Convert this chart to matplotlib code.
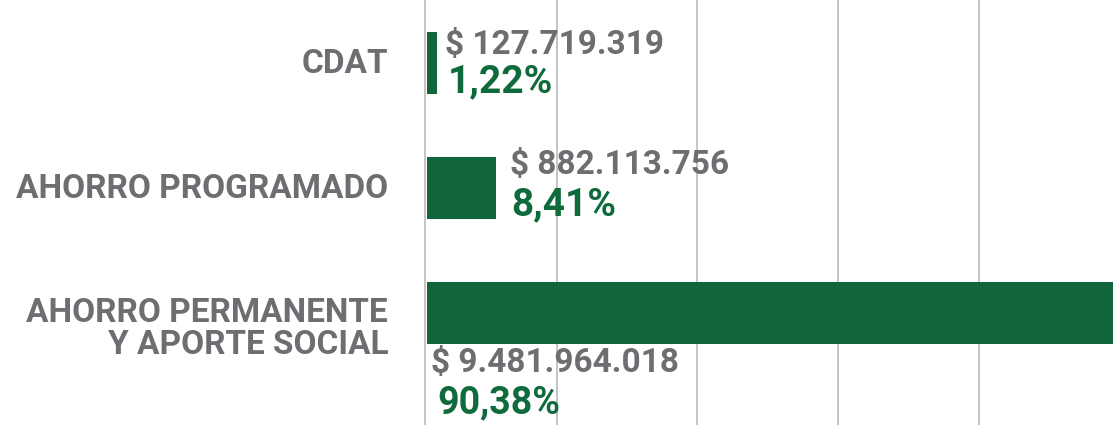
import numpy as np
import matplotlib.pyplot as plt

plt.rcParams['font.family'] = ['Roboto', 'DejaVu Sans']

categorias = ["CDAT", "AHORRO PROGRAMADO", "AHORRO PERMANENTE\nY APORTE SOCIAL"]
valores = [127719319, 882113756, 9481964018]
porcentajes = ["1,22%", "8,41%", "90,38%"]
etiquetas_valor = ["$ 127.719.319", "$ 882.113.756", "$ 9.481.964.018"]

verde = '#10663a'
verde_txt = '#0f6b3c'
gris = '#6d6e71'

fig = plt.figure(figsize=(11.13, 4.25), dpi=100)
ax = fig.add_axes([425 / 1113, 0, 1 - 425 / 1113, 1])

y = np.arange(len(categorias))
ax.barh(y, valores, height=0.49, color=verde, left=0.03e9, zorder=3)

ax.set_xlim(0, 8.84e9)
ax.set_ylim(2.896, -0.504)
ax.set_xticks(1.69e9 + np.arange(4) * 1.81e9)
ax.grid(axis='x', color='#bfbfbf', linewidth=1.3, zorder=0)
ax.tick_params(left=False, bottom=False, labelbottom=False, labelleft=False)
for s in ['top', 'right', 'bottom']:
    ax.spines[s].set_visible(False)
ax.spines['left'].set_color('#bfbfbf')
ax.spines['left'].set_linewidth(1.3)

# etiquetas de categoria
offs = [-1, -1, -16]
for i, c in enumerate(categorias):
    ax.annotate(c, xy=(0, i), xycoords=('axes fraction', 'data'),
                xytext=(-37, offs[i]), textcoords='offset pixels',
                ha='right', va='center', fontsize=24, fontweight='bold',
                color=gris, linespacing=1.0)

# valores y porcentajes
dx_val = [8, 14]
dx_pct = [10, 15]
dy_val = [18, 23]
dy_pct = [-19, -17]
for i in range(2):
    xe = valores[i] + 0.03e9
    ax.annotate(etiquetas_valor[i], xy=(xe, i), xytext=(dx_val[i], dy_val[i]), textcoords='offset pixels',
                ha='left', va='center', fontsize=24, fontweight='bold', color=gris)
    ax.annotate(porcentajes[i], xy=(xe, i), xytext=(dx_pct[i], dy_pct[i]), textcoords='offset pixels',
                ha='left', va='center', fontsize=28, fontweight='bold', color=verde_txt)

ax.annotate(etiquetas_valor[2], xy=(0, 2), xytext=(6, -50), textcoords='offset pixels',
            ha='left', va='center', fontsize=24, fontweight='bold', color=gris)
ax.annotate(porcentajes[2], xy=(0, 2), xytext=(12, -90), textcoords='offset pixels',
            ha='left', va='center', fontsize=27, fontweight='bold', color=verde_txt)

fig.savefig('out.png', dpi=100)
